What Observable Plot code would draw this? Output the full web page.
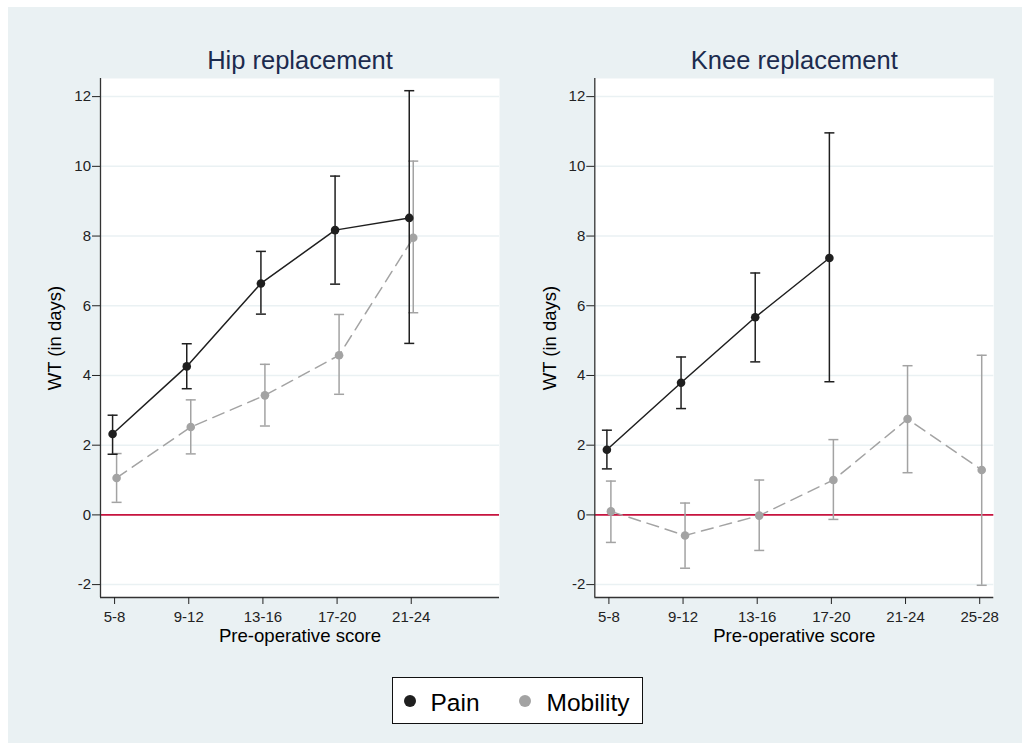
<!DOCTYPE html>
<html><head><meta charset="utf-8">
<script src="https://cdn.jsdelivr.net/npm/d3@7"></script>
<script src="https://cdn.jsdelivr.net/npm/@observablehq/plot@0.6"></script>
<style>
body{margin:0;background:#fff;width:1022px;height:743px;position:relative;overflow:hidden;font-family:"Liberation Sans",Arial,sans-serif;}
#bg{position:absolute;left:8px;top:7px;width:1014px;height:736px;background:#eaf1f3;}
.panel{position:absolute;top:0;}
#legend{position:absolute;left:392px;top:677px;width:249px;height:45px;background:#fff;border:1.5px solid #111;}
#legend .dot{position:absolute;width:12px;height:12px;border-radius:50%;top:17px;}
#legend .lab{position:absolute;font-size:24.5px;line-height:1;top:13px;color:#000;white-space:nowrap;}
</style></head>
<body>
<div id="bg"></div>
<div id="left" class="panel" style="left:0px"></div>
<div id="right" class="panel" style="left:511px"></div>
<div id="legend"></div>
<script>
// ---- data ----
const seriesNames = ["Pain", "Mobility"];
const seriesColors = ["#1f1f1f", "#a3a3a3"];
const yTicks = [-2, 0, 2, 4, 6, 8, 10, 12];

const hipCats = ["5-8", "9-12", "13-16", "17-20", "21-24"];
const hipPain   = [2.32, 4.26, 6.64, 8.17, 8.52];
const hipPainLo = [1.74, 3.62, 5.76, 6.62, 4.92];
const hipPainHi = [2.86, 4.91, 7.56, 9.72, 12.17];
const hipMob    = [1.06, 2.52, 3.43, 4.58, 7.95];
const hipMobLo  = [0.36, 1.75, 2.55, 3.46, 5.80];
const hipMobHi  = [1.76, 3.30, 4.32, 5.75, 10.15];

const kneeCats = ["5-8", "9-12", "13-16", "17-20", "21-24", "25-28"];
const kneePain   = [1.87, 3.79, 5.67, 7.37];
const kneePainLo = [1.32, 3.05, 4.39, 3.82];
const kneePainHi = [2.43, 4.53, 6.94, 10.96];
const kneeMob    = [0.10, -0.59, -0.02, 1.00, 2.75, 1.29];
const kneeMobLo  = [-0.79, -1.53, -1.02, -0.13, 1.21, -2.02];
const kneeMobHi  = [0.97, 0.34, 1.00, 2.16, 4.28, 4.58];

// ---- helpers ----
const xDomain = [0.81, 6.19];
const yDomain = [-2.37, 12.52];
const navy = "#1c2b4e";
const font = "'Liberation Sans', Arial, sans-serif";

const toRows = (vals, lo, hi) => vals.map((v, k) => ({i: k + 1, v, lo: lo[k], hi: hi[k]}));

const cap = {draw(ctx) { ctx.moveTo(-5, 0); ctx.lineTo(5, 0); }};

function seriesMarks(rows, color, dx, dash) {
  return [
    Plot.ruleX(rows, {x: "i", y1: "lo", y2: "hi", dx, stroke: color, strokeWidth: 1.5}),
    Plot.dot(rows, {x: "i", y: "hi", dx, symbol: cap, r: 5, stroke: color, strokeWidth: 1.5, fill: "none"}),
    Plot.dot(rows, {x: "i", y: "lo", dx, symbol: cap, r: 5, stroke: color, strokeWidth: 1.5, fill: "none"}),
    Plot.line(rows, {x: "i", y: "v", dx, stroke: color, strokeWidth: 1.5, strokeDasharray: dash}),
    Plot.dot(rows, {x: "i", y: "v", dx, r: 4.3, fill: color, stroke: "none"})
  ];
}

function panel(title, cats, pain, mob, ml, mr) {
  return Plot.plot({
    width: 511, height: 660,
    marginLeft: ml, marginRight: mr, marginTop: 78, marginBottom: 63,
    style: {background: "transparent", fontFamily: font, fontSize: "15px", color: "#111", overflow: "visible"},
    x: {type: "linear", domain: xDomain},
    y: {domain: yDomain},
    marks: [
      Plot.frame({fill: "white", stroke: null}),
      Plot.ruleY(yTicks, {stroke: "#eaf1f3", strokeWidth: 1.5}),
      Plot.ruleY([0], {stroke: "#c8143f", strokeWidth: 1.6}),
      ...seriesMarks(mob, seriesColors[1], 2, "12,7"),
      ...seriesMarks(pain, seriesColors[0], -2, null),
      Plot.ruleX([xDomain[0]], {stroke: "#333", strokeWidth: 1.3}),
      Plot.ruleY([yDomain[0]], {stroke: "#333", strokeWidth: 1.3}),
      Plot.axisY({ticks: yTicks, tickSize: 8, tickPadding: 1.5, label: null, color: "#222", fontSize: 15, tickFormat: d => String(d).replace("\u2212", "-")}),
      Plot.axisX({ticks: d3.range(1, cats.length + 1), tickSize: 7, tickPadding: 7, label: null, color: "#222", fontSize: 15, tickFormat: i => cats[i - 1]}),
      Plot.text(["WT (in days)"], {frameAnchor: "left", rotate: -90, dx: -45, textAnchor: "middle", fontSize: 18.5, fill: "#000"}),
      Plot.text(["Pre-operative score"], {frameAnchor: "bottom", dy: 44, lineAnchor: "bottom", textAnchor: "middle", fontSize: 18.6, fill: "#000"}),
      Plot.text([title], {frameAnchor: "top", dy: -10, lineAnchor: "bottom", textAnchor: "middle", fontSize: 25.5, fill: navy})
    ]
  });
}

document.getElementById("left").append(
  panel("Hip replacement", hipCats,
        toRows(hipPain, hipPainLo, hipPainHi), toRows(hipMob, hipMobLo, hipMobHi), 100, 12));
document.getElementById("right").append(
  panel("Knee replacement", kneeCats,
        toRows(kneePain, kneePainLo, kneePainHi), toRows(kneeMob, kneeMobLo, kneeMobHi), 83.3, 28.7));

// legend
const leg = document.getElementById("legend");
const dotX = [11, 126], labX = [37.5, 153.5];
seriesNames.forEach((n, k) => {
  const d = document.createElement("div");
  d.className = "dot"; d.style.left = dotX[k] + "px"; d.style.background = seriesColors[k];
  const t = document.createElement("div");
  t.className = "lab"; t.style.left = labX[k] + "px"; t.textContent = n;
  leg.append(d, t);
});
</script>
</body></html>
